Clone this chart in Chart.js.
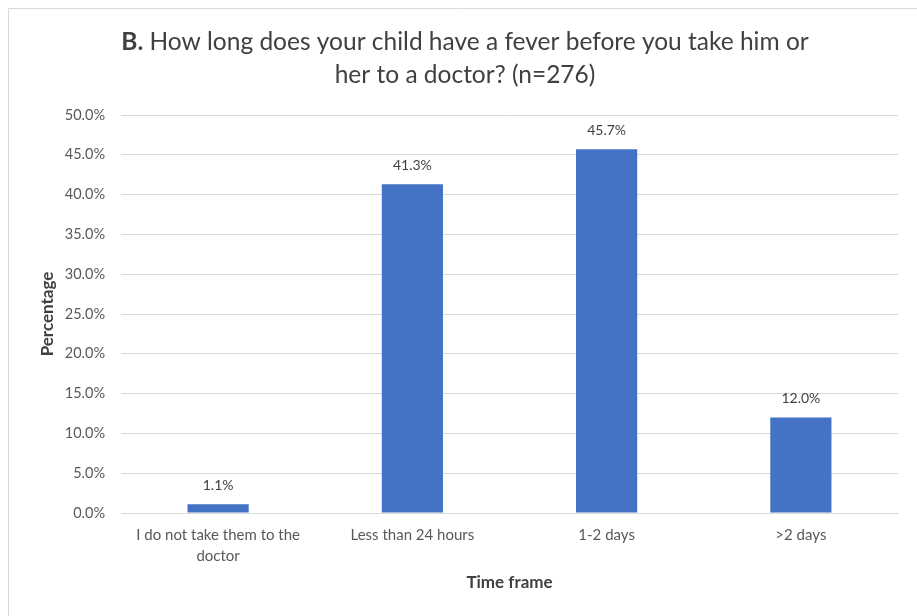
<!DOCTYPE html>
<html>
<head>
<meta charset="utf-8">
<script src="https://cdn.jsdelivr.net/npm/chart.js@4/dist/chart.umd.min.js"></script>
<style>
  html, body { margin: 0; padding: 0; background: #ffffff; }
  #wrap { width: 917px; height: 616px; position: relative; }
</style>
</head>
<body>
<div id="wrap"><canvas id="chart" width="917" height="616"></canvas></div>
<script>
// Survey answers: how long a child has a fever before being taken to a doctor
const categories = [
  ["I do not take them to the", "doctor"],
  "Less than 24 hours",
  "1-2 days",
  ">2 days"
];
const percentages = [1.1, 41.3, 45.7, 12.0];

const titleBold = "B.";
const titleLine1 = " How long does your child have a fever before you take him or";
const titleLine2 = "her to a doctor? (n=276)";
const xAxisTitle = "Time frame";
const yAxisTitle = "Percentage";

const FONT = "Lato, 'Liberation Sans', sans-serif";
const TEXT = "#404040";
const TICK = "#595959";

// Frame, two-line title with a bold prefix, and value labels above bars
const decorations = {
  id: "decorations",
  beforeDraw(chart) {
    const ctx = chart.ctx;
    ctx.save();
    ctx.strokeStyle = "#d9d9d9";
    ctx.lineWidth = 1;
    ctx.beginPath();
    ctx.moveTo(8.5, chart.height + 2);
    ctx.lineTo(8.5, 8.5);
    ctx.lineTo(chart.width + 2, 8.5);
    ctx.stroke();
    ctx.restore();
  },
  afterDraw(chart) {
    const ctx = chart.ctx;
    ctx.save();
    ctx.fillStyle = TEXT;
    ctx.textBaseline = "middle";
    const cx = 465;
    const size = "24.5px ";
    ctx.font = "bold " + size + FONT;
    const wb = ctx.measureText(titleBold).width;
    ctx.font = size + FONT;
    const w1 = ctx.measureText(titleLine1).width;
    let x = cx - (wb + w1) / 2;
    ctx.textAlign = "left";
    ctx.font = "bold " + size + FONT;
    ctx.fillText(titleBold, x, 42);
    ctx.font = size + FONT;
    ctx.fillText(titleLine1, x + wb, 42);
    ctx.textAlign = "center";
    ctx.fillText(titleLine2, cx, 75);

    // value labels
    const meta = chart.getDatasetMeta(0);
    ctx.font = "14px " + FONT;
    ctx.fillStyle = TEXT;
    meta.data.forEach((bar, i) => {
      ctx.fillText(percentages[i].toFixed(1) + "%", bar.x, bar.y - 19);
    });
    ctx.restore();
  }
};

new Chart(document.getElementById("chart"), {
  type: "bar",
  data: {
    labels: categories,
    datasets: [{
      data: percentages,
      backgroundColor: "#4472C4",
      borderWidth: 0,
      categoryPercentage: 1,
      barPercentage: 0.315
    }]
  },
  options: {
    responsive: false,
    animation: false,
    events: [],
    layout: { padding: { top: 115, right: 19, left: 0, bottom: 0 } },
    plugins: {
      legend: { display: false },
      title: { display: false },
      tooltip: { enabled: false }
    },
    scales: {
      x: {
        grid: { display: false, drawTicks: false },
        border: { display: true, color: "#d9d9d9", width: 1 },
        ticks: {
          color: TICK,
          font: { family: FONT, size: 15, lineHeight: 1.4 },
          padding: 12,
          maxRotation: 0,
          autoSkip: false
        },
        title: {
          display: true,
          text: xAxisTitle,
          color: TEXT,
          font: { family: FONT, size: 17, weight: "bold", lineHeight: 1.2 },
          padding: { top: 0, bottom: 23 }
        },
        afterFit(scale) { scale.height = 103; }
      },
      y: {
        min: 0,
        max: 50,
        grid: { color: "#d9d9d9", lineWidth: 1, drawTicks: false },
        border: { display: false },
        ticks: {
          stepSize: 5,
          color: TICK,
          font: { family: FONT, size: 14.5 },
          padding: 16,
          callback: v => v.toFixed(1) + "%"
        },
        title: {
          display: true,
          text: yAxisTitle,
          color: TEXT,
          font: { family: FONT, size: 17, weight: "bold", lineHeight: 1.2 },
          padding: { top: 37, bottom: 0 }
        },
        afterFit(scale) { scale.width = 121; }
      }
    }
  },
  plugins: [decorations]
});
</script>
</body>
</html>
